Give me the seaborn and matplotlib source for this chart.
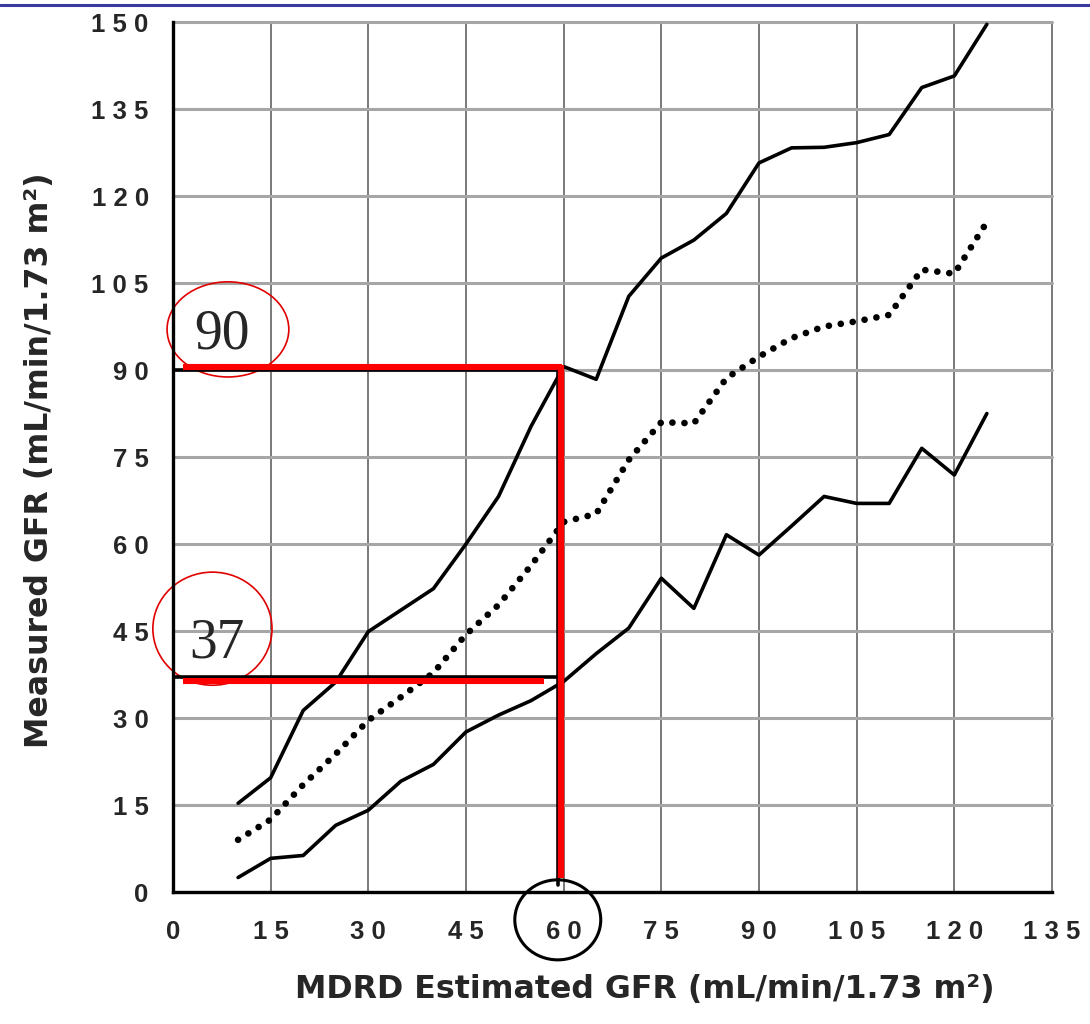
import matplotlib

matplotlib.use("Agg")

import matplotlib.pyplot as plt
import pandas as pd
import seaborn as sns
from matplotlib.lines import Line2D
from matplotlib.patches import Ellipse

# MDRD estimated GFR (x) and measured GFR percentiles (y)
estimated_gfr = [10, 15, 20, 25, 30, 35, 40, 45, 50, 55, 60, 65,
                 70, 75, 80, 85, 90, 95, 100, 105, 110, 115, 120, 125]
upper_gfr = [15.3, 19.7, 31.3, 36.2, 44.9, 48.6, 52.3, 60.0, 68.2, 80.3, 90.6, 88.4,
             102.7, 109.3, 112.4, 117.0, 125.7, 128.3, 128.4, 129.2, 130.6, 138.7, 140.7, 149.6]
median_gfr = [9.0, 12.5, 18.5, 23.8, 29.6, 33.6, 37.8, 44.4, 49.5, 56.3, 63.8, 65.2,
              74.5, 81.0, 80.8, 88.6, 92.3, 95.5, 97.5, 98.4, 99.5, 107.3, 106.6, 115.5]
lower_gfr = [2.5, 5.8, 6.3, 11.5, 14.1, 19.1, 22.0, 27.6, 30.5, 33.0, 36.3, 41.1,
             45.5, 54.1, 48.9, 61.6, 58.1, 63.1, 68.2, 67.0, 67.0, 76.5, 71.9, 82.5]

x_ticks = list(range(0, 136, 15))
y_ticks = list(range(0, 151, 15))

# hand-drawn annotation: reading at eGFR 60
cutoff_egfr = 60
upper_reading = 90
lower_reading = 37

frame = pd.DataFrame({
    "egfr": estimated_gfr,
    "upper": upper_gfr,
    "median": median_gfr,
    "lower": lower_gfr,
})

sns.set_style("white")
plt.rcParams["font.family"] = ["Liberation Sans", "DejaVu Sans"]

fig = plt.figure(figsize=(10.9, 10.24), dpi=100)
ax = fig.add_axes([0.1587, 0.1289, 0.8064, 0.8496])

sns.lineplot(data=frame, x="egfr", y="upper", ax=ax, color="black", lw=2.6)
sns.lineplot(data=frame, x="egfr", y="lower", ax=ax, color="black", lw=2.6)
sns.lineplot(data=frame, x="egfr", y="median", ax=ax, color="black", lw=4.8,
             linestyle=(0, (0.01, 1.8)), dash_capstyle="round")

ax.set_xlim(0, 135)
ax.set_ylim(0, 150)
ax.set_xticks(x_ticks)
ax.set_yticks(y_ticks)
ax.set_xticklabels([" ".join(str(v)) for v in x_ticks], fontsize=18.5, fontweight="bold")
ax.set_yticklabels([" ".join(str(v)) for v in y_ticks], fontsize=18.5, fontweight="bold")
ax.tick_params(axis="both", direction="out", length=9, width=2, color="black")
ax.tick_params(axis="x", pad=11)
ax.tick_params(axis="y", pad=8.5)

ax.set_axisbelow(True)
ax.xaxis.grid(True, color="#6e6e6e", lw=1.3)
ax.yaxis.grid(True, color="#a6a6a6", lw=2.2)
for line in ax.get_xgridlines() + ax.get_ygridlines():
    line.set_clip_on(False)

for side in ["top", "right"]:
    ax.spines[side].set_visible(False)
for side in ["left", "bottom"]:
    ax.spines[side].set_color("black")
    ax.spines[side].set_linewidth(2.4)

label_font = ["DejaVu Sans", "Liberation Sans"]
ax.set_xlabel("MDRD Estimated GFR (mL/min/1.73 m²)", fontsize=22.8, fontweight="bold",
              family=label_font)
ax.set_ylabel("Measured GFR (mL/min/1.73 m²)", fontsize=22.8, fontweight="bold",
              family=label_font)
ax.xaxis.set_label_coords(0.537, -0.094)
ax.yaxis.set_label_coords(-0.134, 0.4966)

# black guide lines from the original figure
ax.plot([0, cutoff_egfr - 0.9], [upper_reading, upper_reading], color="black", lw=2.6)
ax.plot([0, cutoff_egfr - 0.5], [lower_reading, lower_reading], color="black", lw=2.6)
ax.plot([cutoff_egfr - 0.9, cutoff_egfr - 0.9], [1.2, upper_reading], color="black", lw=2.6)

# red overlay lines
red = "#ff0000"
ax.plot([1.6, cutoff_egfr - 0.2], [upper_reading + 0.6, upper_reading + 0.6], color=red, lw=4.4,
        solid_capstyle="butt")
ax.plot([1.6, cutoff_egfr - 3.0], [lower_reading - 0.7, lower_reading - 0.7], color=red, lw=4.4,
        solid_capstyle="butt")
ax.plot([cutoff_egfr - 0.4, cutoff_egfr - 0.4], [2.4, upper_reading + 0.9], color=red, lw=4.6,
        solid_capstyle="butt")

ax.text(7.5, 96.2, str(upper_reading), fontsize=40, family=["Liberation Serif", "DejaVu Serif"],
        ha="center", va="center")
ax.text(6.75, 42.9, str(lower_reading), fontsize=40, family=["Liberation Serif", "DejaVu Serif"],
        ha="center", va="center")
ax.add_patch(Ellipse((8.44, 97.0), 18.7, 16.4, fill=False, ec="#e00000", lw=1.2, clip_on=False))
ax.add_patch(Ellipse((6.06, 45.4), 18.3, 19.5, fill=False, ec="#e00000", lw=1.2, clip_on=False))
ax.add_patch(Ellipse((cutoff_egfr - 0.9, -4.8), 13.2, 13.8, fill=False, ec="black", lw=2.2,
                     clip_on=False))

# slide header rule
fig.add_artist(Line2D([0, 1], [1 - 5 / 1024, 1 - 5 / 1024], transform=fig.transFigure,
                      color="#3a3a9e", lw=2.2))

fig.savefig("out.png", dpi=100)
plt.close(fig)
